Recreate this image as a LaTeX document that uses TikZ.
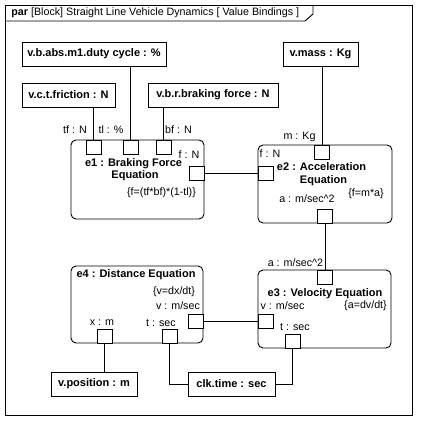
\documentclass[tikz,border=0pt]{standalone}
\usepackage{fontspec}
\setmainfont{Liberation Sans}
\usepackage{tikz}
\usetikzlibrary{calc}

\tikzset{
  valbox/.style={draw,inner sep=0pt,minimum height=24pt,font=\fontsize{11}{12}\selectfont\bfseries},
  eqn/.style={draw,rounded corners=5pt,inner sep=0pt},
  port/.style={draw,fill=white,inner sep=0pt,minimum width=15pt,minimum height=14pt},
  lbl/.style={inner sep=0pt},
  btxt/.style={inner sep=0pt,font=\fontsize{11}{12}\selectfont\bfseries}
}

\begin{document}
\begin{tikzpicture}[x=1pt,y=-1pt,line width=0.9pt,font=\fontsize{10.7}{12}\selectfont]
            \useasboundingbox (0,0) rectangle (426,431);
            \draw (5,5) rectangle (412,415);
            \draw (5,21) -- (305,21) -- (313,14) -- (313,5);
            \node[lbl,anchor=west] (title) at (11,13) {\textbf{par} [Block] Straight Line Vehicle Dynamics [ Value Bindings ]};

            \node[valbox,minimum width=144pt] (duty) at (94,54) {v.b.abs.m1.duty cycle : \%};
            \node[valbox,minimum width=93pt] (fric) at (68.5,95) {v.c.t.friction : N};
            \node[valbox,minimum width=130pt] (brake) at (213,95) {v.b.r.braking force : N};
            \node[valbox,minimum width=75pt] (mass) at (320.5,54) {v.mass : Kg};
            \node[valbox,minimum width=86pt] (pos) at (94,384) {v.position : m};
            \node[valbox,minimum width=87pt] (clk) at (231.5,384) {clk.time : sec};

            \node[eqn,minimum width=133pt,minimum height=79pt] (e1) at (137.5,179.5) {};
            \node[eqn,minimum width=134pt,minimum height=78pt] (e2) at (325,184) {};
            \node[eqn,minimum width=133pt,minimum height=78pt] (e3) at (324.5,309) {};
            \node[eqn,minimum width=132pt,minimum height=77pt] (e4) at (137,304.5) {};

            \node[port] (tf) at (93.5,147) {};
            \node[port] (tl) at (130.5,147) {};
            \node[port] (bf) at (163.5,147) {};
            \node[port] (f1) at (196.5,173) {};
            \node[port] (f2) at (265.5,173) {};
            \node[port] (m2) at (322,152) {};
            \node[port] (a2) at (325,216) {};
            \node[port] (a3) at (325,277) {};
            \node[port] (v3) at (265.5,321) {};
            \node[port] (t3) at (292.5,341) {};
            \node[port] (v4) at (195.5,321) {};
            \node[port] (x4) at (104.5,336) {};
            \node[port] (t4) at (169.5,336) {};

            \draw (tf.north) -- (tf.north |- fric.south);
            \draw (tl.north) -- (tl.north |- duty.south);
            \draw (bf.north) -- (bf.north |- brake.south);
            \draw (m2.north) -- (m2.north |- mass.south);
            \draw (f1.east) -- (f2.west);
            \draw (a2.south) -- (a3.north);
            \draw (v4.east) -- (v3.west);
            \draw (x4.south) -- (x4.south |- pos.north);
            \draw (t4.south) |- (clk.west);
            \draw (t3.south) |- (clk.east);

            \node[lbl] (tfl) at (75,130) {tf : N};
            \node[lbl] (tll) at (111,130) {tl : \%};
            \node[lbl] (bfl) at (178.5,130) {bf : N};
            \node[lbl] (ml) at (299.5,137) {m : Kg};

            \node[lbl] (f1l) at (189,155) {f : N};
            \node[btxt] (e1a) at (133.5,164) {e1 : Braking Force};
            \node[btxt] (e1b) at (135,175.5) {Equation};
            \node[lbl] (e1c) at (161.5,193) {\{f=(tf*bf)*(1-tl)\}};

            \node[lbl] (f2l) at (270,154) {f : N};
            \node[btxt] (e2a) at (321.5,167) {e2 : Acceleration};
            \node[btxt] (e2b) at (323.5,181) {Equation};
            \node[lbl] (a2l) at (307,199) {a : m/sec\textasciicircum 2};
            \node[lbl] (e2c) at (366,194) {\{f=m*a\}};

            \node[lbl] (a3l) at (295.5,263) {a : m/sec\textasciicircum 2};
            \node[btxt] (e3a) at (325,294) {e3 : Velocity Equation};
            \node[lbl] (v3l) at (282.5,306) {v : m/sec};
            \node[lbl] (e3c) at (365.5,306) {\{a=dv/dt\}};
            \node[lbl] (t3l) at (295,327) {t : sec};

            \node[btxt] (e4a) at (136,275) {e4 : Distance Equation};
            \node[lbl] (e4c) at (174,292) {\{v=dx/dt\}};
            \node[lbl] (v4l) at (178,306) {v : m/sec};
            \node[lbl] (x4l) at (102,323) {x : m};
            \node[lbl] (t4l) at (161,323) {t : sec};
\end{tikzpicture}
\end{document}
